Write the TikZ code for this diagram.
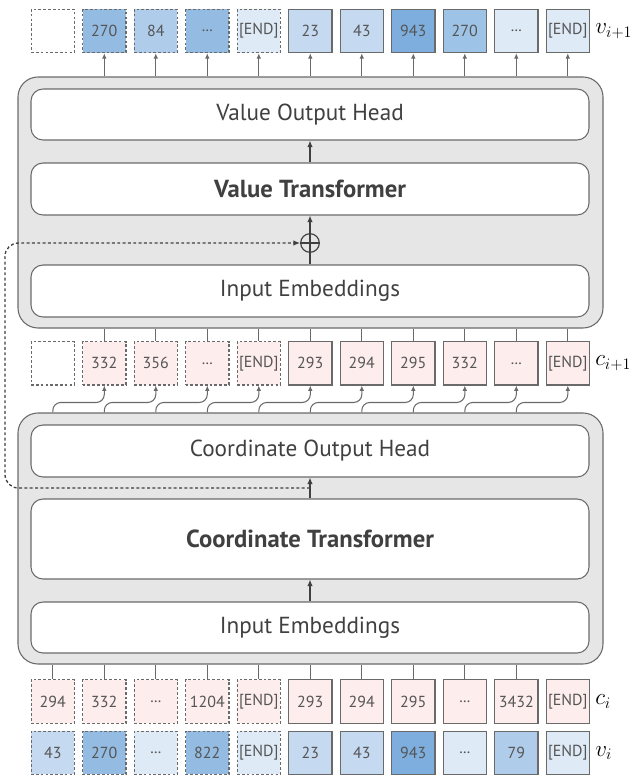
\documentclass[tikz,border=0pt]{standalone}
\usepackage{fontspec}
\setmainfont{PT Sans}
\usetikzlibrary{arrows.meta,calc}
\definecolor{linegray}{HTML}{6A6A6A}
\definecolor{txtgray}{HTML}{404040}
\definecolor{toktxt}{HTML}{555555}
\definecolor{blockfill}{HTML}{E6E6E6}
\definecolor{pinkfill}{HTML}{FDEDED}
\definecolor{bA}{HTML}{DEEAF6}
\definecolor{bB}{HTML}{C5D9F0}
\definecolor{bC}{HTML}{AFCDEB}
\definecolor{bD}{HTML}{94BCE2}
\definecolor{bDD}{HTML}{9DC3E6}
\definecolor{bE}{HTML}{7EAEDD}
\newcommand\tokdots{.\kern0.3pt.\kern0.3pt.}
\tikzset{
  tok/.style={draw=linegray, line width=0.8pt, minimum width=32.5pt, minimum height=32.5pt,
    inner sep=0pt, text=toktxt, font=\fontsize{12}{14}\selectfont},
  tokd/.style={tok, dash pattern=on 2pt off 1.6pt},
  outerblock/.style={draw=linegray, line width=0.8pt, fill=blockfill, rounded corners=15pt,
    minimum width=438.75pt, minimum height=188.25pt, inner sep=0pt},
  innerbox/.style={draw=linegray, line width=0.8pt, fill=white, rounded corners=9pt,
    minimum width=418.5pt, inner sep=0pt, text=txtgray, font=\fontsize{17.4}{20}\selectfont},
  boldtext/.style={font=\fontsize{18.5}{21}\selectfont\bfseries},
  ln/.style={draw=linegray, line width=0.8pt},
  arr/.style={ln, -{Latex[length=4pt,width=3.4pt]}},
  darr/.style={draw=txtgray, line width=0.9pt, -{Latex[length=5pt,width=4.2pt]}},
  dasharr/.style={draw=txtgray, line width=1pt, dash pattern=on 2.2pt off 1.8pt,
    -{Latex[length=5pt,width=4.2pt]}},
  lab/.style={anchor=west, inner sep=0pt, font=\fontsize{17}{20}\selectfont},
}
\begin{document}
\begin{tikzpicture}[x=0.75pt, y=-0.75pt]
\useasboundingbox (0,0) rectangle (634,775);

% blocks
\node[outerblock] (vblock) at (310.5,202.5) {};
\node[outerblock] (cblock) at (310.5,538.5) {};

\node[innerbox, minimum height=38.25pt] (voh) at (310,114.5) {Value Output Head};
\node[innerbox, boldtext, minimum height=39pt] (vt) at (310,189) {Value Transformer};
\node[innerbox, minimum height=39pt] (ie1) at (310,291) {Input Embeddings};
\node[draw=txtgray, line width=0.9pt, circle, minimum size=14pt, inner sep=0pt] (plus) at (310,243) {};
\draw[draw=txtgray, line width=0.9pt] (plus.north) -- (plus.south) (plus.west) -- (plus.east);

\node[innerbox, minimum height=39pt] (coh) at (310,451) {Coordinate Output Head};
\node[innerbox, boldtext, minimum height=60pt] (ct) at (310,539) {Coordinate Transformer};
\node[innerbox, minimum height=38.25pt] (ie2) at (310,627.5) {Input Embeddings};

% token rows
\foreach \t/\c/\s [count=\k from 0] in {\phantom{0}/white/tokd, 270/bD/tokd, 84/bC/tokd, \tokdots/bD/tokd, [END]/bA/tokd,
   23/bB/tok, 43/bB/tok, 943/bE/tok, 270/bDD/tok, \tokdots/bA/tok, [END]/bA/tok}
  \node[\s, fill=\c] (o\k) at ({52.8+51.5*\k},31) {\t};

\foreach \t/\c/\s [count=\k from 0] in {\phantom{0}/white/tokd, 332/pinkfill/tokd, 356/pinkfill/tokd, \tokdots/pinkfill/tokd, [END]/pinkfill/tokd,
   293/pinkfill/tok, 294/pinkfill/tok, 295/pinkfill/tok, 332/pinkfill/tok, \tokdots/pinkfill/tok, [END]/pinkfill/tok}
  \node[\s, fill=\c] (n\k) at ({52.8+51.5*\k},363.3) {\t};

\foreach \t/\c/\s [count=\k from 0] in {294/pinkfill/tokd, 332/pinkfill/tokd, \tokdots/pinkfill/tokd, 1204/pinkfill/tokd, [END]/pinkfill/tokd,
   293/pinkfill/tok, 294/pinkfill/tok, 295/pinkfill/tok, \tokdots/pinkfill/tok, 3432/pinkfill/tok, [END]/pinkfill/tok}
  \node[\s, fill=\c] (c\k) at ({52.8+51.5*\k},701.5) {\t};

\foreach \t/\c/\s [count=\k from 0] in {43/bB/tokd, 270/bD/tokd, \tokdots/bA/tokd, 822/bD/tokd, [END]/bA/tokd,
   23/bB/tok, 43/bB/tok, 943/bE/tok, \tokdots/bA/tok, 79/bC/tok, [END]/bA/tok}
  \node[\s, fill=\c] (v\k) at ({52.8+51.5*\k},752.8) {\t};

% labels
\node[lab] (lv1) at (595,31) {$v_{i+1}$};
\node[lab] (lc1) at (595,363.3) {$c_{i+1}$};
\node[lab] (lc) at (595,701.5) {$c_i$};
\node[lab] (lv) at (595,752.8) {$v_i$};

% connectors
\foreach \k in {1,...,10}
  \draw[arr] (vblock.north -| o\k) -- (o\k);
\foreach \k in {1,...,10}
  \draw[ln] (n\k) -- (n\k |- vblock.south);
\foreach \k [evaluate=\k as \kk using int(\k+1)] in {0,...,9}
  \draw[arr, rounded corners=6pt] (cblock.north -| n\k) -- ++(0,-10) -| (n\kk);
\foreach \k in {0,...,9}
  \draw[ln] (c\k) -- (c\k |- cblock.south);

\draw[darr, -] (ie1) -- (plus);
\draw[darr] (plus) -- (vt);
\draw[darr] (vt) -- (voh);
\draw[darr] (ie2) -- (ct);
\draw[darr] (ct) -- (coh);

\coordinate (dstart) at ($(coh.south)!0.5!(ct.north)$);
\draw[dasharr, rounded corners=10pt] (dstart) -- ++(-305,0) |- (plus.west);
\end{tikzpicture}
\end{document}
